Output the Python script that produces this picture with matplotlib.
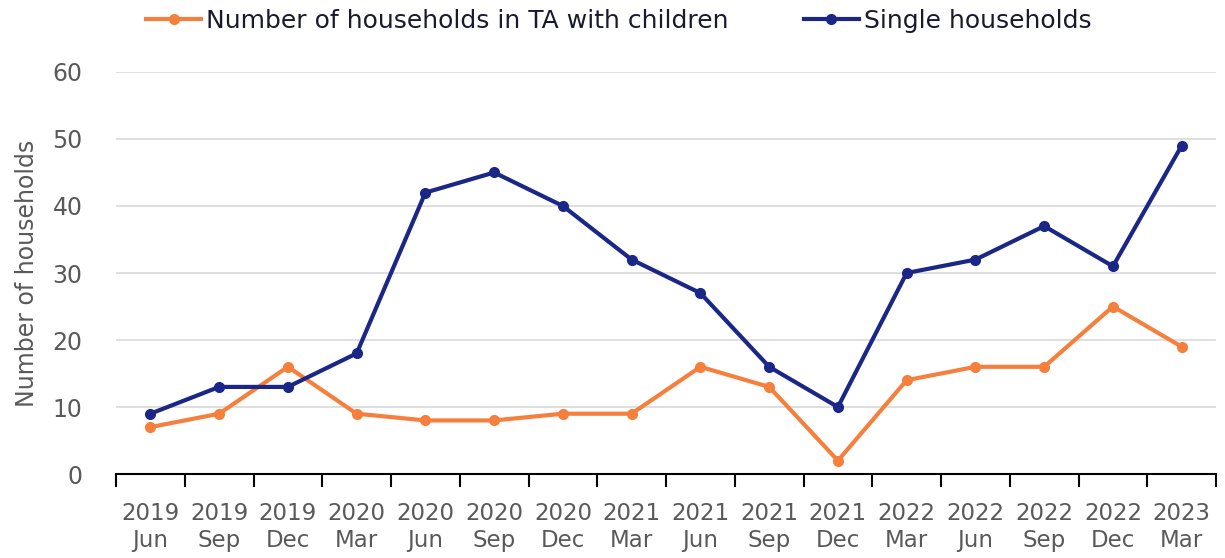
import numpy as np
import matplotlib
matplotlib.use("Agg")
import matplotlib.pyplot as plt

periods = ["2019\nJun", "2019\nSep", "2019\nDec", "2020\nMar", "2020\nJun", "2020\nSep",
           "2020\nDec", "2021\nMar", "2021\nJun", "2021\nSep", "2021\nDec", "2022\nMar",
           "2022\nJun", "2022\nSep", "2022\nDec", "2023\nMar"]
children = [7, 9, 16, 9, 8, 8, 9, 9, 16, 13, 2, 14, 16, 16, 25, 19]
single = [9, 13, 13, 18, 42, 45, 40, 32, 27, 16, 10, 30, 32, 37, 31, 49]

orange = "#F5803E"
navy = "#1B2787"
grey = "#595959"

plt.rcParams['font.family'] = ['DejaVu Sans']

fig = plt.figure(figsize=(12.25, 5.58), dpi=100)
ax = fig.add_axes([0.0947, 0.1505, 0.898, 0.7205])

x = np.arange(len(periods))
ax.plot(x, children, color=orange, lw=3, marker='o', ms=7, label="Number of households in TA with children")
ax.plot(x, single, color=navy, lw=3, marker='o', ms=7, label="Single households")

ax.set_xlim(-0.5, len(periods) - 0.5)
ax.set_ylim(0, 60)
ax.set_yticks(range(0, 61, 10))
ax.grid(axis='y', color='#d9d9d9', lw=1.2)
ax.set_axisbelow(True)

ax.set_xticks(x)
ax.set_xticklabels(periods, fontsize=16.5, color=grey, linespacing=1.25)
ax.tick_params(axis='x', which='major', length=0, pad=20)
ax.set_xticks(np.arange(-0.5, len(periods), 1), minor=True)
ax.tick_params(axis='x', which='minor', length=9, width=1.5, color='black', direction='out')
ax.tick_params(axis='y', length=0, labelsize=17, labelcolor=grey, pad=24)

for s in ['top', 'right', 'left']:
    ax.spines[s].set_visible(False)
ax.spines['bottom'].set_linewidth(1.5)

ax.set_ylabel("Number of households", fontsize=17, color=grey, labelpad=10)

fig.legend(loc='upper center', bbox_to_anchor=(0.505, 1.025), ncol=2, frameon=False,
           fontsize=18, handlelength=2.2, handletextpad=0.2, columnspacing=3.0,
           labelcolor='#1a1a2e')

fig.savefig("out.png", dpi=100)
